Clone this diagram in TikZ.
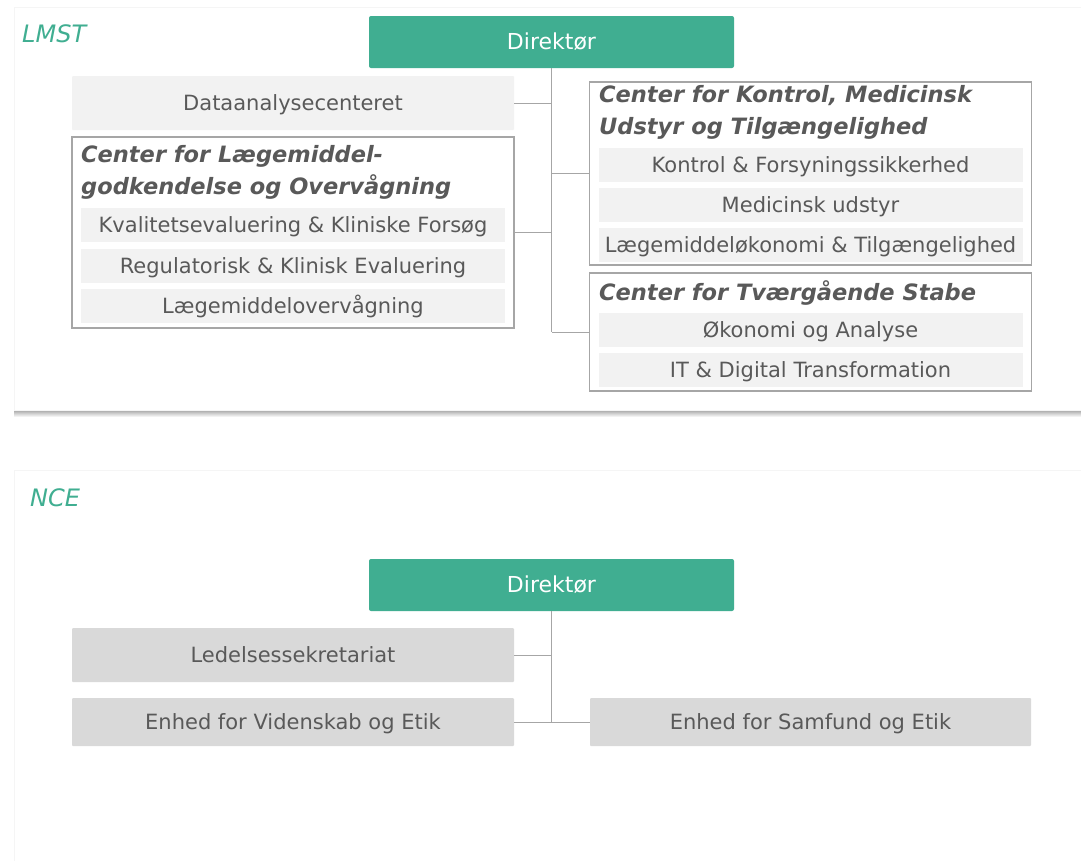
\documentclass[tikz,border=0pt]{standalone}
\usepackage{fontspec}
\setmainfont{DejaVu Sans}
\usetikzlibrary{positioning, calc}
\definecolor{nceteal}{HTML}{40AE91}
\definecolor{boxgray}{HTML}{F2F2F2}
\definecolor{unitgray}{HTML}{D9D9D9}
\definecolor{txtgray}{HTML}{595959}
\definecolor{linegray}{HTML}{A6A6A6}

\begin{document}
\begin{tikzpicture}[
      x=1pt, y=-1pt,
      every node/.style={font=\fontsize{21}{24}\selectfont, text=txtgray, inner sep=0pt},
      panel/.style={draw=black!4, fill=white},
      director/.style={fill=nceteal, text=white, rounded corners=2pt, font=\fontsize{22}{24}\selectfont,
                       minimum width=365pt, minimum height=52pt, text height=16pt, text depth=1pt},
      unit/.style={fill=boxgray, rounded corners=1pt, minimum width=442pt, minimum height=54pt,
                   text height=16pt, text depth=1pt},
      subunit/.style={fill=boxgray, minimum width=424pt, minimum height=34pt,
                      text height=16pt, text depth=1pt},
      division/.style={draw=linegray, line width=1.2pt, minimum width=442pt},
      divtitle/.style={font=\bfseries\itshape\fontsize{22.5}{32}\selectfont, align=left, anchor=north west},
      tag/.style={font=\itshape\fontsize{24}{30}\selectfont, text=nceteal, anchor=west},
      link/.style={draw=linegray, line width=0.8pt},
    ]
    \useasboundingbox (0,0) rectangle (1081,860);

    % LMST
    \shade[top color=black!45, bottom color=white] (14,408) rectangle (1081,417);
    \draw[panel] (14,7) rectangle (1083,410);
    \node[tag] (lmst) at (22,34) {LMST};

    \node[director] (dirA) at (551.5,42) {Direktør};
    \node[unit] (data) at (293,103) {Dataanalysecenteret};

    \node[division, minimum height=191pt] (lm) at (293,232.5) {};
    \node[divtitle] (lmT) at (81,145) {Center for Lægemiddel-\\godkendelse og Overvågning};
    \node[subunit] (kval) at (293,225) {Kvalitetsevaluering \& Kliniske Forsøg};
    \node[subunit] (reg)  at (293,266) {Regulatorisk \& Klinisk Evaluering};
    \node[subunit] (lmov) at (293,306) {Lægemiddelovervågning};

    \node[division, minimum height=183pt] (ck) at (810.5,173.5) {};
    \node[divtitle] (ckT) at (599,85) {Center for Kontrol, Medicinsk\\Udstyr og Tilgængelighed};
    \node[subunit] (kon) at (810.5,165) {Kontrol \& Forsyningssikkerhed};
    \node[subunit] (med) at (810.5,205) {Medicinsk udstyr};
    \node[subunit] (oko) at (810.5,244.5) {Lægemiddeløkonomi \& Tilgængelighed};

    \node[division, minimum height=118pt] (tv) at (810.5,332) {};
    \node[divtitle] (tvT) at (599,280) {Center for Tværgående Stabe};
    \node[subunit] (okA) at (810.5,330) {Økonomi og Analyse};
    \node[subunit] (itd) at (810.5,370) {IT \& Digital Transformation};

    \draw[link] (dirA.south) -- (dirA.south |- tv.west);
    \draw[link] (data.east) -- (data.east -| dirA.south);
    \draw[link] (lm.east) -- (lm.east -| dirA.south);
    \draw[link] (ck.west) -- (ck.west -| dirA.south);
    \draw[link] (tv.west) -- (tv.west -| dirA.south);

    % NCE
    \draw[panel] (14,470) rectangle (1083,862);
    \node[tag] (nce) at (30,498) {NCE};

    \node[director] (dirB) at (551.5,585) {Direktør};
    \node[unit, fill=unitgray] (led) at (293,655) {Ledelsessekretariat};
    \node[unit, fill=unitgray, minimum height=48pt] (vid) at (293,722) {Enhed for Videnskab og Etik};
    \node[unit, fill=unitgray, minimum height=48pt, minimum width=441pt] (sam) at (810.5,722) {Enhed for Samfund og Etik};

    \draw[link] (dirB.south) -- (dirB.south |- vid.east);
    \draw[link] (led.east) -- (led.east -| dirB.south);
    \draw[link] (vid.east) -- (sam.west);
  \end{tikzpicture}
\end{document}
